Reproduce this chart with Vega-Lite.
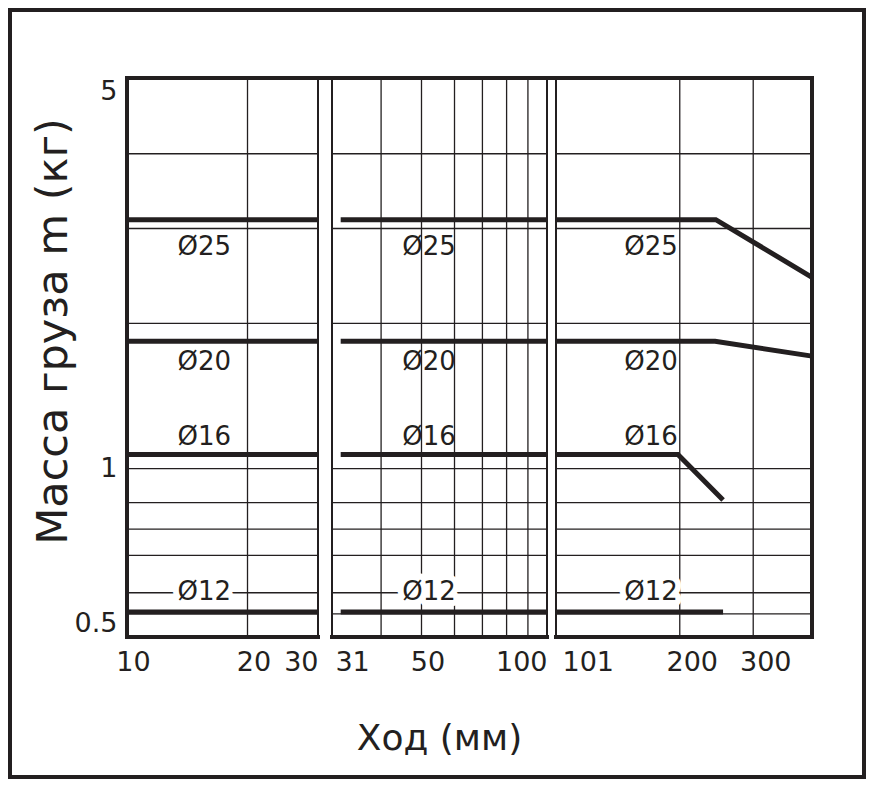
{
  "$schema": "https://vega.github.io/schema/vega-lite/v6.json",
  "width": 854,
  "height": 767,
  "autosize": {"type": "none"},
  "padding": {"left": 10, "top": 10, "right": 8, "bottom": 9},
  "background": "white",
  "config": {"view": {"stroke": "#231f20", "strokeWidth": 4, "fill": "white"}},
  "datasets": {
    "rules": [
      {"k": "grid", "x1": 10, "x2": 30, "y1": 0.55, "y2": 0.55},
      {"k": "grid", "x1": 10, "x2": 30, "y1": 0.6, "y2": 0.6},
      {"k": "grid", "x1": 10, "x2": 30, "y1": 0.7, "y2": 0.7},
      {"k": "grid", "x1": 10, "x2": 30, "y1": 0.78, "y2": 0.78},
      {"k": "grid", "x1": 10, "x2": 30, "y1": 0.87, "y2": 0.87},
      {"k": "grid", "x1": 10, "x2": 30, "y1": 1, "y2": 1},
      {"k": "grid", "x1": 10, "x2": 30, "y1": 1.82, "y2": 1.82},
      {"k": "grid", "x1": 10, "x2": 30, "y1": 2.69, "y2": 2.69},
      {"k": "grid", "x1": 10, "x2": 30, "y1": 3.66, "y2": 3.66},
      {"k": "grid", "x1": 30.5, "x2": 100, "y1": 0.55, "y2": 0.55},
      {"k": "grid", "x1": 30.5, "x2": 100, "y1": 0.6, "y2": 0.6},
      {"k": "grid", "x1": 30.5, "x2": 100, "y1": 0.7, "y2": 0.7},
      {"k": "grid", "x1": 30.5, "x2": 100, "y1": 0.78, "y2": 0.78},
      {"k": "grid", "x1": 30.5, "x2": 100, "y1": 0.87, "y2": 0.87},
      {"k": "grid", "x1": 30.5, "x2": 100, "y1": 1, "y2": 1},
      {"k": "grid", "x1": 30.5, "x2": 100, "y1": 1.82, "y2": 1.82},
      {"k": "grid", "x1": 30.5, "x2": 100, "y1": 2.69, "y2": 2.69},
      {"k": "grid", "x1": 30.5, "x2": 100, "y1": 3.66, "y2": 3.66},
      {"k": "grid", "x1": 101, "x2": 415, "y1": 0.55, "y2": 0.55},
      {"k": "grid", "x1": 101, "x2": 415, "y1": 0.6, "y2": 0.6},
      {"k": "grid", "x1": 101, "x2": 415, "y1": 0.7, "y2": 0.7},
      {"k": "grid", "x1": 101, "x2": 415, "y1": 0.78, "y2": 0.78},
      {"k": "grid", "x1": 101, "x2": 415, "y1": 0.87, "y2": 0.87},
      {"k": "grid", "x1": 101, "x2": 415, "y1": 1, "y2": 1},
      {"k": "grid", "x1": 101, "x2": 415, "y1": 1.82, "y2": 1.82},
      {"k": "grid", "x1": 101, "x2": 415, "y1": 2.69, "y2": 2.69},
      {"k": "grid", "x1": 101, "x2": 415, "y1": 3.66, "y2": 3.66},
      {"k": "grid", "x1": 20, "x2": 20, "y1": 0.5, "y2": 5},
      {"k": "grid", "x1": 40, "x2": 40, "y1": 0.5, "y2": 5},
      {"k": "grid", "x1": 50, "x2": 50, "y1": 0.5, "y2": 5},
      {"k": "grid", "x1": 60, "x2": 60, "y1": 0.5, "y2": 5},
      {"k": "grid", "x1": 70, "x2": 70, "y1": 0.5, "y2": 5},
      {"k": "grid", "x1": 80, "x2": 80, "y1": 0.5, "y2": 5},
      {"k": "grid", "x1": 90, "x2": 90, "y1": 0.5, "y2": 5},
      {"k": "grid", "x1": 200, "x2": 200, "y1": 0.5, "y2": 5},
      {"k": "grid", "x1": 300, "x2": 300, "y1": 0.5, "y2": 5},
      {"k": "edge", "x1": 30, "x2": 30, "y1": 0.5, "y2": 5},
      {"k": "edge", "x1": 30.5, "x2": 30.5, "y1": 0.5, "y2": 5},
      {"k": "edge", "x1": 100, "x2": 100, "y1": 0.5, "y2": 5},
      {"k": "edge", "x1": 101, "x2": 101, "y1": 0.5, "y2": 5},
      {"k": "border", "x1": 10, "x2": 415, "y1": 5, "y2": 5},
      {"k": "border", "x1": 10, "x2": 10, "y1": 0.5, "y2": 5},
      {"k": "border", "x1": 415, "x2": 415, "y1": 0.5, "y2": 5},
      {"k": "border", "x1": 10, "x2": 30, "y1": 0.5, "y2": 0.5},
      {"k": "border", "x1": 30.5, "x2": 100, "y1": 0.5, "y2": 0.5},
      {"k": "border", "x1": 101, "x2": 415, "y1": 0.5, "y2": 0.5}
    ],
    "lines": [
      {"d": "Ø25", "seg": "25a", "x": 10, "y": 2.79},
      {"d": "Ø25", "seg": "25a", "x": 30, "y": 2.79},
      {"d": "Ø25", "seg": "25b", "x": 32, "y": 2.79},
      {"d": "Ø25", "seg": "25b", "x": 100, "y": 2.79},
      {"d": "Ø25", "seg": "25c", "x": 101, "y": 2.79},
      {"d": "Ø25", "seg": "25c", "x": 244, "y": 2.79},
      {"d": "Ø25", "seg": "25c", "x": 415, "y": 2.2},
      {"d": "Ø20", "seg": "20a", "x": 10, "y": 1.69},
      {"d": "Ø20", "seg": "20a", "x": 30, "y": 1.69},
      {"d": "Ø20", "seg": "20b", "x": 32, "y": 1.69},
      {"d": "Ø20", "seg": "20b", "x": 100, "y": 1.69},
      {"d": "Ø20", "seg": "20c", "x": 101, "y": 1.69},
      {"d": "Ø20", "seg": "20c", "x": 243, "y": 1.69},
      {"d": "Ø20", "seg": "20c", "x": 415, "y": 1.59},
      {"d": "Ø16", "seg": "16a", "x": 10, "y": 1.06},
      {"d": "Ø16", "seg": "16a", "x": 30, "y": 1.06},
      {"d": "Ø16", "seg": "16b", "x": 32, "y": 1.06},
      {"d": "Ø16", "seg": "16b", "x": 100, "y": 1.06},
      {"d": "Ø16", "seg": "16c", "x": 101, "y": 1.06},
      {"d": "Ø16", "seg": "16c", "x": 198, "y": 1.06},
      {"d": "Ø16", "seg": "16c", "x": 254, "y": 0.879},
      {"d": "Ø12", "seg": "12a", "x": 10, "y": 0.554},
      {"d": "Ø12", "seg": "12a", "x": 30, "y": 0.554},
      {"d": "Ø12", "seg": "12b", "x": 32, "y": 0.554},
      {"d": "Ø12", "seg": "12b", "x": 100, "y": 0.554},
      {"d": "Ø12", "seg": "12c", "x": 101, "y": 0.554},
      {"d": "Ø12", "seg": "12c", "x": 254, "y": 0.554}
    ],
    "labels": [
      {"t": "Ø25", "x": 15.6, "y": 2.49},
      {"t": "Ø25", "x": 52.1, "y": 2.49},
      {"t": "Ø25", "x": 170.7, "y": 2.49},
      {"t": "Ø20", "x": 15.6, "y": 1.55},
      {"t": "Ø20", "x": 52.1, "y": 1.55},
      {"t": "Ø20", "x": 170.7, "y": 1.55},
      {"t": "Ø16", "x": 15.6, "y": 1.14},
      {"t": "Ø16", "x": 52.1, "y": 1.14},
      {"t": "Ø16", "x": 170.7, "y": 1.14},
      {"t": "Ø12", "x": 15.6, "y": 0.602},
      {"t": "Ø12", "x": 52.1, "y": 0.602},
      {"t": "Ø12", "x": 170.7, "y": 0.602}
    ]
  },
  "layer": [
    {
      "data": {"name": "rules"},
      "transform": [{"filter": "datum.k == 'grid'"}],
      "mark": {"type": "rule", "color": "#231f20", "strokeWidth": 1.3},
      "encoding": {
        "x": {
          "field": "x1", "type": "quantitative",
          "scale": {"type": "log", "domain": [10, 30, 30.5, 100, 101, 415], "range": [117, 308, 322, 537, 546, 802], "nice": false},
          "axis": {
            "title": "Ход (мм)",
            "values": [10, 20, 30, 31, 50, 100, 101, 200, 300],
            "format": "d",
            "offset": -140,
            "domain": false, "ticks": false, "grid": false,
            "labelFont": "DejaVu Sans", "labelFontSize": 27, "labelFontWeight": "normal", "labelColor": "#231f20",
            "labelPadding": 12, "labelOverlap": false, "labelFlush": false, "labelBound": false,
            "labelAlign": {"condition": [{"test": "datum.value == 30 || datum.value == 100", "value": "right"}, {"test": "datum.value == 31 || datum.value == 101", "value": "left"}], "value": "center"},
            "labelOffset": {"condition": [{"test": "datum.value == 30 || datum.value == 100 || datum.value == 31", "value": 0}, {"test": "datum.value >= 200", "value": 12}], "value": 6},
            "titleFont": "DejaVu Sans", "titleFontSize": 36, "titleFontWeight": "normal", "titleColor": "#231f20",
            "titleX": 429, "titleY": 112, "titleAlign": "center", "titleBaseline": "alphabetic"
          }
        },
        "x2": {"field": "x2"},
        "y": {
          "field": "y1", "type": "quantitative",
          "scale": {"type": "log", "domain": [0.5, 5], "range": [627, 68], "nice": false},
          "axis": {
            "title": "Масса груза m (кг)",
            "values": [0.5, 1, 5],
            "format": "~g",
            "offset": -117,
            "domain": false, "ticks": false, "grid": false,
            "labelFlush": true, "labelPadding": 10,
            "labelFont": "DejaVu Sans", "labelFontSize": 27, "labelFontWeight": "normal", "labelColor": "#231f20",
            "titleFont": "DejaVu Sans", "titleFontSize": 43, "titleFontWeight": "normal", "titleColor": "#231f20",
            "titleAngle": -90, "titleX": -61, "titleY": 321, "titleAlign": "center", "titleBaseline": "alphabetic"
          }
        },
        "y2": {"field": "y2"}
      }
    },
    {
      "data": {"name": "rules"},
      "transform": [{"filter": "datum.k == 'edge'"}],
      "mark": {"type": "rule", "color": "#231f20", "strokeWidth": 2},
      "encoding": {
        "x": {"field": "x1", "type": "quantitative", "scale": {"type": "log", "domain": [10, 30, 30.5, 100, 101, 415], "range": [117, 308, 322, 537, 546, 802], "nice": false}},
        "x2": {"field": "x2"},
        "y": {"field": "y1", "type": "quantitative", "scale": {"type": "log", "domain": [0.5, 5], "range": [627, 68], "nice": false}},
        "y2": {"field": "y2"}
      }
    },
    {
      "data": {"name": "rules"},
      "transform": [{"filter": "datum.k == 'border'"}],
      "mark": {"type": "rule", "color": "#231f20", "strokeWidth": 4, "strokeCap": "square"},
      "encoding": {
        "x": {"field": "x1", "type": "quantitative", "scale": {"type": "log", "domain": [10, 30, 30.5, 100, 101, 415], "range": [117, 308, 322, 537, 546, 802], "nice": false}},
        "x2": {"field": "x2"},
        "y": {"field": "y1", "type": "quantitative", "scale": {"type": "log", "domain": [0.5, 5], "range": [627, 68], "nice": false}},
        "y2": {"field": "y2"}
      }
    },
    {
      "data": {"name": "lines"},
      "mark": {"type": "line", "color": "#231f20", "strokeWidth": 5},
      "encoding": {
        "x": {"field": "x", "type": "quantitative", "scale": {"type": "log", "domain": [10, 30, 30.5, 100, 101, 415], "range": [117, 308, 322, 537, 546, 802], "nice": false}},
        "y": {"field": "y", "type": "quantitative", "scale": {"type": "log", "domain": [0.5, 5], "range": [627, 68], "nice": false}},
        "detail": {"field": "seg"}
      }
    },
    {
      "data": {"name": "labels"},
      "transform": [{"filter": "datum.y < 0.7"}],
      "mark": {"type": "text", "font": "DejaVu Sans", "fontSize": 26, "fill": "#ffffff", "stroke": "#ffffff", "strokeWidth": 12, "strokeJoin": "round", "baseline": "middle", "align": "center"},
      "encoding": {
        "x": {"field": "x", "type": "quantitative", "scale": {"type": "log", "domain": [10, 30, 30.5, 100, 101, 415], "range": [117, 308, 322, 537, 546, 802], "nice": false}},
        "y": {"field": "y", "type": "quantitative", "scale": {"type": "log", "domain": [0.5, 5], "range": [627, 68], "nice": false}},
        "text": {"field": "t"}
      }
    },
    {
      "data": {"name": "labels"},
      "mark": {"type": "text", "font": "DejaVu Sans", "fontSize": 26, "color": "#231f20", "baseline": "middle", "align": "center"},
      "encoding": {
        "x": {"field": "x", "type": "quantitative", "scale": {"type": "log", "domain": [10, 30, 30.5, 100, 101, 415], "range": [117, 308, 322, 537, 546, 802], "nice": false}},
        "y": {"field": "y", "type": "quantitative", "scale": {"type": "log", "domain": [0.5, 5], "range": [627, 68], "nice": false}},
        "text": {"field": "t"}
      }
    }
  ]
}
